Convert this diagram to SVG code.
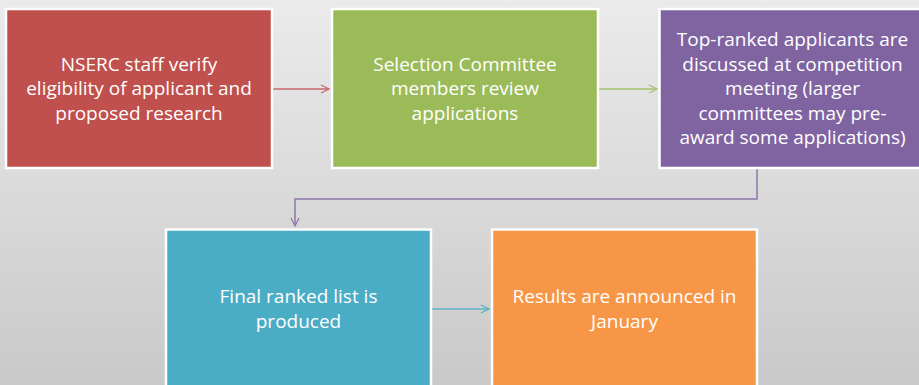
<svg xmlns="http://www.w3.org/2000/svg" width="919" height="385" viewBox="0 0 919 385">
<defs>
<linearGradient id="bg" x1="0" y1="0" x2="0" y2="1">
<stop offset="0" stop-color="#ebebeb"/>
<stop offset="1" stop-color="#c9c9c9"/>
</linearGradient>
<marker id="arR" viewBox="0 0 10 10" refX="9" refY="5" markerWidth="10" markerHeight="10" markerUnits="userSpaceOnUse" orient="auto"><path d="M1,1 L9,5 L1,9" fill="none" stroke="#c9676a" stroke-width="1.2"/></marker>
<marker id="arG" viewBox="0 0 10 10" refX="9" refY="5" markerWidth="10" markerHeight="10" markerUnits="userSpaceOnUse" orient="auto"><path d="M1,1 L9,5 L1,9" fill="none" stroke="#a5c46e" stroke-width="1.2"/></marker>
<marker id="arP" viewBox="0 0 10 10" refX="9" refY="5" markerWidth="10" markerHeight="10" markerUnits="userSpaceOnUse" orient="auto"><path d="M1,1 L9,5 L1,9" fill="none" stroke="#8e78ab" stroke-width="1.2"/></marker>
<marker id="arT" viewBox="0 0 10 10" refX="9" refY="5" markerWidth="10" markerHeight="10" markerUnits="userSpaceOnUse" orient="auto"><path d="M1,1 L9,5 L1,9" fill="none" stroke="#5fb2c9" stroke-width="1.2"/></marker>
</defs>
<style>
.box{stroke:#ffffff;stroke-width:2.5}
.t{font-family:"Open Sans","Noto Sans",sans-serif;font-size:19px;fill:#ffffff;text-anchor:middle}
.c{fill:none;stroke-width:1.5}
</style>
<rect width="919" height="385" fill="url(#bg)"/>
<g id="connectors">
<line class="c" x1="273" y1="89" x2="329" y2="89" stroke="#c9676a" marker-end="url(#arR)"/>
<line class="c" x1="599" y1="89" x2="657" y2="89" stroke="#a5c46e" marker-end="url(#arG)"/>
<polyline class="c" points="757,169 757,199 295,199 295,226" stroke="#8e78ab" marker-end="url(#arP)"/>
<line class="c" x1="432" y1="309" x2="489" y2="309" stroke="#5fb2c9" marker-end="url(#arT)"/>
</g>
<g id="node1">
<rect class="box" x="6" y="9" width="266" height="159" fill="#c0504d"/>
<text class="t" x="139" y="70.5">NSERC staff verify</text>
<text class="t" x="139" y="95">eligibility of applicant and</text>
<text class="t" x="139" y="119.5">proposed research</text>
</g>
<g id="node2">
<rect class="box" x="332" y="9" width="266" height="159" fill="#9bbb59"/>
<text class="t" x="465" y="70.5">Selection Committee</text>
<text class="t" x="465" y="95">members review</text>
<text class="t" x="465" y="119.5">applications</text>
</g>
<g id="node3">
<rect class="box" x="659.5" y="9" width="266" height="159" fill="#8064a2"/>
<text class="t" x="792.5" y="46">Top-ranked applicants are</text>
<text class="t" x="792.5" y="70.5">discussed at competition</text>
<text class="t" x="792.5" y="95">meeting (larger</text>
<text class="t" x="792.5" y="119.5">committees may pre-</text>
<text class="t" x="792.5" y="144">award some applications)</text>
</g>
<g id="node4">
<rect class="box" x="166" y="229.5" width="265" height="159" fill="#4bacc6"/>
<text class="t" x="298.5" y="303">Final ranked list is</text>
<text class="t" x="298.5" y="327.5">produced</text>
</g>
<g id="node5">
<rect class="box" x="492" y="229.5" width="265" height="159" fill="#f79646"/>
<text class="t" x="624.5" y="303">Results are announced in</text>
<text class="t" x="624.5" y="327.5">January</text>
</g>
</svg>
